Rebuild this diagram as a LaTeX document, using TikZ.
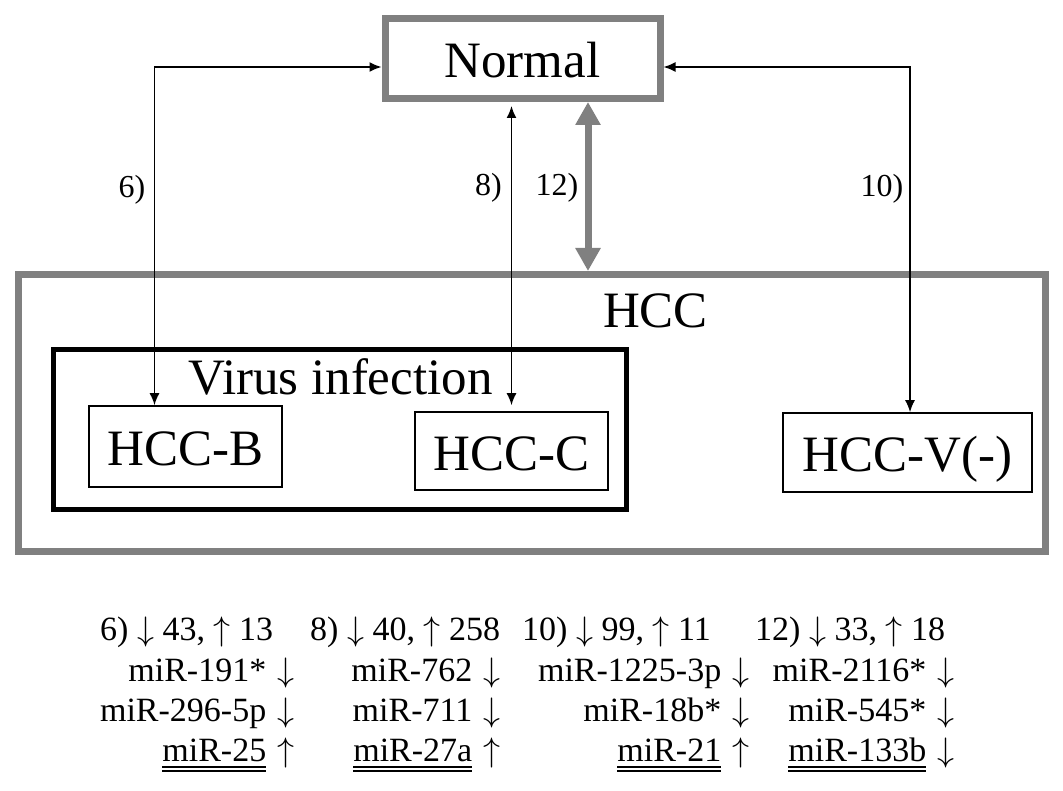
\documentclass[tikz,border=0pt]{standalone}
\usepackage{fontspec}
\setmainfont{Liberation Serif}
\DeclareFontShape{OMS}{cmsy}{m}{n}{<->cmsy10}{}
\usetikzlibrary{arrows.meta}
\definecolor{boxgray}{RGB}{128,128,128}
\tikzset{
  big/.style={font=\fontsize{51}{60}\selectfont},
  lab/.style={font=\fontsize{32}{38}\selectfont, inner sep=0pt},
  mir/.style={font=\fontsize{34}{40}\selectfont, inner sep=0pt},
  graybox/.style={draw=boxgray, line width=7pt, inner sep=0pt},
  thinbox/.style={draw=black, line width=1.6pt, inner sep=0pt, big, text height=38pt, text depth=0pt},
  link/.style={line width=1.6pt, {Latex[length=12pt,width=10pt]}-{Latex[length=12pt,width=10pt]}},
  fat/.style={draw=boxgray, line width=7pt, {Triangle[length=23pt,width=24pt]}-{Triangle[length=23pt,width=24pt]}},
}
\newcommand{\dul}[1]{\leavevmode\vtop{\hbox{#1}\kern5pt\hrule height 1.8pt\kern2pt\hrule height 1.8pt}}
\newcommand{\dn}{\hspace{3pt}$\downarrow$\hspace{3pt}}
\newcommand{\up}{\hspace{3pt}$\uparrow$\hspace{3pt}}
\newcommand{\hdn}{$\downarrow$}
\newcommand{\hup}{$\uparrow$}
\begin{document}
\begin{tikzpicture}[x=1pt,y=-1pt]
\useasboundingbox[fill=white] (0,0) rectangle (1063,791);

% boxes
\node[graybox, big, minimum width=275pt, minimum height=80pt, text height=39pt, text depth=0pt] (normal) at (522.5,58.5) {Normal};
\node[graybox, minimum width=1027pt, minimum height=276.5pt] (hcc) at (531.5,412.75) {};
\node[big, anchor=base, inner sep=0pt] (hcclabel) at (655.5,328) {HCC};
\node[draw=black, line width=5pt, inner sep=0pt, minimum width=572.5pt, minimum height=159.5pt] (virus) at (339.75,429.75) {};
\node[big, anchor=base, inner sep=0pt] (viruslabel) at (340.5,395) {Virus infection};
\node[thinbox, minimum width=193pt, minimum height=81pt] (hccb) at (185.5,446.5) {HCC-B};
\node[thinbox, minimum width=193pt, minimum height=78pt] (hccc) at (511.5,451) {HCC-C};
\node[thinbox, minimum width=249pt, minimum height=79pt] (hccv) at (907.5,452.5) {HCC-V(-)};

% connectors
\coordinate (cL) at (154.5,67);
\coordinate (cR) at (910,67);
\coordinate (c12) at (588,0);
\draw[link] (cL |- hccb.north) -- (cL) -- (cL -| normal.west);
\draw[link] (cR -| normal.east) -- (cR) -- (cR |- hccv.north);
\draw[link, shorten <=4pt, shorten >=6pt] (normal.south -| hccc.north) -- (hccc.north);
\draw[fat] (c12 |- normal.south) -- (c12 |- hcc.north);

% connector labels
\node[lab] (l6) at (132,190) {6)};
\node[lab] (l8) at (488.5,188) {8)};
\node[lab] (l12) at (557,188) {12)};
\node[lab] (l10) at (882,189) {10)};

% lists
\node[mir, anchor=base west] (h1) at (100,640) {6) \hdn{} 43, \hup{} 13};
\node[mir, anchor=base west] (h2) at (310,640) {8) \hdn{} 40, \hup{} 258};
\node[mir, anchor=base west] (h3) at (522,640) {10) \hdn{} 99, \hup{} 11};
\node[mir, anchor=base west] (h4) at (755,640) {12) \hdn{} 33, \hup{} 18};

\node[mir, anchor=base east] (a1) at (295,681) {miR-191* \dn};
\node[mir, anchor=base east] (a2) at (295,721) {miR-296-5p \dn};
\node[mir, anchor=base east] (a3) at (295,761) {\dul{miR-25} \up};

\node[mir, anchor=base east] (b1) at (501,681) {miR-762 \dn};
\node[mir, anchor=base east] (b2) at (501,721) {miR-711 \dn};
\node[mir, anchor=base east] (b3) at (501,761) {\dul{miR-27a} \up};

\node[mir, anchor=base east] (c1) at (750,681) {miR-1225-3p \dn};
\node[mir, anchor=base east] (c2) at (750,721) {miR-18b* \dn};
\node[mir, anchor=base east] (c3) at (750,761) {\dul{miR-21} \up};

\node[mir, anchor=base east] (d1) at (955,681) {miR-2116* \dn};
\node[mir, anchor=base east] (d2) at (955,721) {miR-545* \dn};
\node[mir, anchor=base east] (d3) at (955,761) {\dul{miR-133b} \dn};
\end{tikzpicture}
\end{document}
